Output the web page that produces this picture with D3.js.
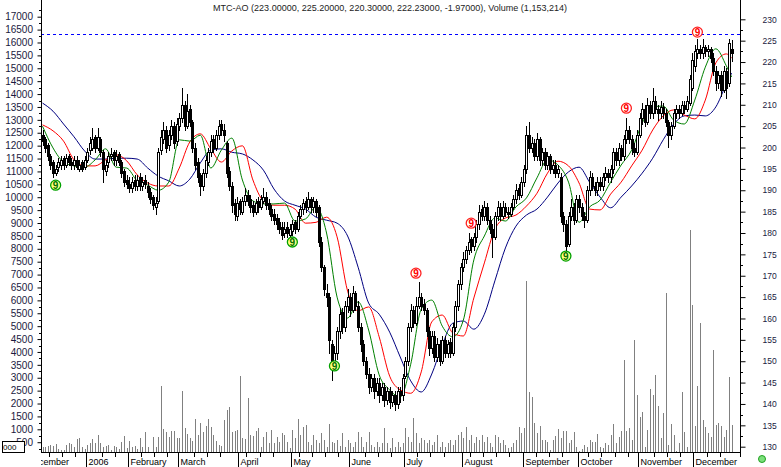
<!DOCTYPE html>
<html><head><meta charset="utf-8">
<script src="https://cdn.jsdelivr.net/npm/d3@7"></script>
<style>html,body{margin:0;padding:0;background:#fff;} svg{display:block;}</style>
</head><body>
<svg id="chart" width="781" height="467"></svg>
<script>
// ---------------- DATA ----------------
const title = "MTC-AO (223.00000, 225.20000, 220.30000, 222.23000, -1.97000), Volume (1,153,214)";

// daily bars (Dec 2005 .. Dec 2006)
const open = [
 203,202,200.5,198,196.5,194,195.5,196,197.5,196,198,196.5,196,197,195,196.5,195.5,
 197,199.5,200,202.5,200,202,199,194.5,196.5,198,199,197,198.5,196.5,194.5,192.5,
 191.5,190.5,192.5,191,193,191,192.5,191,189.5,188.5,186,187.5,199.5,202,204,200.5,203,205,201.5,
 205,207,210,205,209,206,200,196.5,193.5,191,194,196.5,199,202,200,203,205.5,204,201,194.5,191,187,184,
 187.5,185,187.5,189,188,186.5,185,187.5,186,187.5,188.5,187,185.5,184.5,183.5,182.5,181.5,180,181.5,179.5,
 180.5,182.5,181,184,185.5,187.5,186,188,186,187.5,186,178,172,166,165,154,150,152,157,161.5,158,163,
 165,162,166,163,158,154,150,147,144,146,143,145,142,144,141,143,140.5,142,140,143,142,
 146.5,150,158,162,159,163,165,163.5,162,157,153,156,151,154,150,155,152,154.5,152,158,163,168,
 172,174,176,178.5,177,179,182,185.5,184,186,183,181,179,184,186,184,186,185,184.5,186,188,190.5,189,
 192,195,203,200,201,198,202,197,199,196,198,195,196,194,193,184,182,177.5,184,186,183,
 188,186,184,183,190,193,191,190,192,191,193,194,193,195,199,197,200,198,202,204,202,200,199,
 203,207,209,206,210,208,211,209,208,209.5,208,206,203,205,208,209,208,210,209,210.5,214,
 219,222,223,222,223.5,222.5,223,221,218,215,217,213.5,218,215,223
];
const high = [
 204,202.5,201,198.5,197,196,197.5,198,198,198.5,198.5,197.5,198,198,197,197,198,
 200,202.5,204.5,203,204.5,202.5,199.5,197,199,200,199.5,199.5,199,197,195,193.5,
 193,193,193.5,193.5,194,193,193.5,192,190.5,189,188.5,200,204,206,205,204,206.5,206,207,
 208,214,211,212.5,210,206.5,201,197.5,194,195,198,200,203,203,204,206.5,206.5,205.5,201.5,195.5,192,188,188.5,
 188,188.5,190.5,190,189,187.5,188,188.5,189,190.5,189.5,188,186.5,185.5,184.5,183.5,182.5,182.5,182.5,182,
 183,183,185,186.5,188,188.5,189.5,188.5,188.5,188,186.5,179,172.5,168,166,155,153.5,158,162.5,162.5,164,167,
 166,167.5,166.5,164,159,155,151,148.5,147,147,146,146,145,145,144,144,143,143,144,144,147,
 151,159,163.5,163,165,168.5,166,164.5,162.5,158,157,157,155.5,155,156,156,155,155.5,159,164,169,173,
 175.5,177,180,179,180,183,186.5,186.5,187.5,187,184,182,185,187.5,187,187.5,187,186,187,189,191.5,191.5,193,
 196,205,206,202.5,202,203.5,202.5,200,200,199,198.5,197,197,196,194,185,183,185,188,187,189,
 189,187,185,191,194.5,194,192,193,193,194,195.5,195,196,200,200,201,200.5,203,207,205,203,201,204,
 208,210.5,210,211.5,211,214,212,210,211,210.5,209,206.5,206,209,210,210,211,211,212,217,222,
 224,225.5,224,225.5,224,224,223.5,222,219,218,218,219,218.5,225.5,225.2
];
const low = [
 200.5,199,197,195,193,193.5,194.5,195,195,195.5,196,195,195,195,194.5,194.5,195,
 196.5,198.5,199.5,199,199.5,198,192,193.5,195.5,197,196,196,196,193,191,190.5,
 189.5,189.5,190,190,190,190,190.5,188.5,187,185.5,184.5,187,198.5,201,199,199.5,202,200,200.5,
 204,206,204,204.5,205,199,195,192,189,190,193,196,198,199,199.5,202,203,201.5,193,190,185,183,183,
 184.5,184.5,186.5,186.5,185,184,184.5,185,185.5,187,185.5,184.5,183,182,181,180,178.5,179,179,178.8,
 179.5,180,180.5,183.5,184.5,185,185.5,185,185,184,177,171,165.5,163,152,145.5,149.5,150.5,155.5,156.5,157,161.5,
 160.5,161.5,162,157,152.5,149,146,142.5,143,141.5,142,140.5,141,139.5,140,139,139.5,138.5,139,140.5,141,
 146,149,157,158,158.5,162.5,162,161,156,151.5,152,150,150,149,149.5,151,151,151,151.5,157,162,167,
 171,173,175,175.5,176,178,181,183,183,182,180,174.5,178.5,183,183,183.5,184,183.5,184,185.5,187,188,188.5,
 191,194,199,199,197,197,196,196,195,195,194,194,193,193,182.5,180.5,175.5,177,183,182,182.5,
 185,183,181.5,182.5,189,190,189,189,190,190,192.5,192,192,194,196,196,197,197,201,201,198.5,198,198.5,
 202.5,205.5,205,205.5,207,207,208,206.5,207,207,205,200.2,202,204.5,207,207,207.5,208,208.5,210,213.5,
 218,221,221,221,221.5,221.5,220,217,213.5,214,212,213,211.5,214.5,220.3
];
const close = [
 201.5,200,198,196,194,195,196.5,197,196,197.5,196.5,196,197,195.5,196,195,197,
 199,201,202,200,202.5,199,195,196,198,198.5,197,198,196.5,194,192,191.5,
 190.5,192,191,192.5,191,192,191.5,189.5,188,186.5,187,199,202.5,204,200,203,205,201,205.5,
 207,210,205,208.5,206,200,196,193,191,194,197,199,201.5,200,203,205,204,203,194,191,186.5,184.5,187,
 185.5,187.5,189,187.5,186,185,187,186,188,188.5,186.5,185.5,184,183,182,181,179.5,181,180,181,
 182,181,184,185.5,187,186,188,186,187.5,185,178,172,167,165,155,149,152,157,161,158,163,165,
 162,166,163,158,154,150,147,144,146,143,145,142,144,141,143,140.5,142,140,143,142,146,
 150,158,162,159,163,165,163,162,157,153,156,151,154,150,155,152,154,152,158,163,168,172,
 174,176,178,177,179,182,185,184,186,183,181,179,184,186,184,186,185,184.5,186,188,190,189,192,
 195,203,200,201,198,202,197,199,196,198,195,196,194,195,184,182,177,184,186,183,188,
 186,184,183,190,193,191,190,192,191,193,194,193,195,199,197,200,198,202,204,202,200,199,203,
 207,209,206,210,208,211,209,208,209.5,208,206,203,205,208,209,208,210,209,211,216,220.5,
 222.5,223,222,223.5,222.5,223,221,218,215,217,213.5,218,214,224.5,222.23
];
// volume, thousands (left axis)
const volume = [
 300,300,365,400,365,430,235,200,200,390,480,430,300,625,675,315,225,390,460,625,
 460,780,460,300,365,400,200,365,300,235,520,740,290,545,300,365,250,660,300,885,
 330,120,700,330,700,2680,1010,895,700,935,935,675,675,2485,1050,820,675,545,1400,780,
 1245,905,1130,1400,1090,780,560,400,365,1360,1750,1865,895,935,985,3070,660,625,2215,780,
 740,935,1050,
 325,715,905,460,975,460,715,520,845,780,520,290,975,650,1400,780,1100,1165,520,390,
 780,585,460,845,585,325,1200,520,460,585,355,845,325,585,460,325,520,905,715,325,
 520,905,390,325,520,325,460,1040,460,290,650,325,520,325,460,1040,715,520,1425,845,
 460,650,585,460,585,390,520,780,325,520,325,460,585,390,585,780,905,650,1100,585,
 780,460,715,585,780,520,715,460,325,780,715,460,585,390,290,325,460,585,1100,845,
 1040,6750,2460,2265,1255,870,1130,585,585,520,200,585,740,1025,675,945,935,480,585,885,
 315,170,235,390,315,585,505,495,820,300,275,460,400,780,1195,460,715,935,3690,945,
 1065,585,4460,2330,1490,1670,300,975,2560,2330,3105,1915,675,1630,6280,390,1205,780,170,460,
 2460,895,300,8720,5820,1130,2680,5135,1360,1100,870,715,4075,1155,1235,1130,700,975,3040,1165
];

// Alligator lines read every 4 bars (+ last bar)
const lineBars = d3.range(0, 261, 4).concat([262]);
const jaw = [210.4,208.5,205.5,202.5,199.2,197.3,197.3,197.5,197.5,197.3,195.2,193.3,192.2,191.0,192.6,196.4,199.4,199.7,198.9,198.5,
 197.1,194.7,190.3,187.5,186.5,185.6,183.7,183.0,182.3,179.3,172.0,163.6,161.0,156.8,151.0,145.4,142.8,147.0,153.8,158.9,
 159.4,157.5,161.0,168.8,176.5,181.6,184.2,185.6,188.4,191.7,194.3,195.4,191.9,188.4,185.9,188.4,191.0,194.0,197.5,201.8,
 205.5,207.4,207.6,207.4,209.5,214.9,217.4];
const teeth = [205.3,203.9,201.5,197.1,195.7,195.7,197.1,198.3,196.9,193.6,191.7,191.0,191.0,195.2,201.3,203.2,199.7,196.6,199.2,200.4,
 192.4,187.5,186.5,186.5,185.6,182.3,182.5,183.7,179.1,166.4,161.8,162.7,155.7,146.5,143.3,142.5,147.5,159.2,160.8,156.6,
 155.9,164.8,173.0,180.9,183.5,184.2,186.3,189.3,194.0,196.8,195.7,191.7,185.6,185.4,189.1,191.9,195.7,199.4,204.1,207.4,
 208.8,207.6,206.7,211.1,219.8,221.9,220.9];
const lips = [205.0,199.9,196.6,195.7,195.4,197.1,199.7,195.4,195.2,192.2,191.2,190.0,191.9,201.8,201.5,202.9,195.2,199.4,202.2,192.4,
 187.5,186.8,186.8,187.0,182.8,183.3,186.1,180.0,165.0,160.1,163.9,157.3,146.8,143.3,141.6,149.3,162.2,164.3,158.2,155.7,
 159.6,173.7,179.3,183.5,182.8,186.1,188.2,192.9,197.1,195.9,191.9,182.5,186.1,187.7,191.9,195.9,199.4,205.7,209.5,209.7,
 206.4,205.5,211.1,218.8,223.1,219.1,216.5];

// "9" setup markers
const nineBars   = [5, 95, 111, 199, 142, 163, 222, 249];
const ninePrices = [191.2, 177.9, 148.9, 174.6, 170.6, 182.3, 209.2, 227.0];
const nineKinds  = ["buy","buy","buy","buy","sell","sell","sell","sell"];

const resistance = 226.56;

// month axis
const monthBars   = [-6, 17, 33, 52, 75, 95, 117, 138, 160, 183, 204, 227, 248];
const monthLabels = ["December","2006","February","March","April","May","June","July","August","September","October","November","December"];
const priceTicks  = d3.range(130, 231, 5);
const volumeTicks = d3.range(500, 17001, 500);

// ---------------- DRAW ----------------
const W = 781, H = 467;
const plotL = 41, plotR = 740, plotB = 452;
const svg = d3.select("#chart");
const x  = d3.scaleLinear().domain([0, close.length - 1]).range([42.5, 731.6]);
const yP = d3.scaleLinear().domain([130, 230]).range([446.7, 19.3]);
const yV = d3.scaleLinear().domain([0, 17000]).range([455.1, 16.7]);
const cx = i => Math.round(x(i));

svg.append("rect").attr("width", W).attr("height", H).attr("fill", "#fff");
const defs = svg.append("defs");
defs.append("clipPath").attr("id", "plot").append("rect")
  .attr("x", plotL + 1).attr("y", 0).attr("width", plotR - plotL - 1).attr("height", plotB);
defs.append("clipPath").attr("id", "xlab").append("rect")
  .attr("x", plotL).attr("y", plotB).attr("width", plotR - plotL).attr("height", H - plotB);

const plot = svg.append("g").attr("clip-path", "url(#plot)");

// volume bars
plot.append("g").attr("shape-rendering", "crispEdges")
  .selectAll("line").data(volume).join("line")
  .attr("x1", (d, i) => cx(i) + 0.5).attr("x2", (d, i) => cx(i) + 0.5)
  .attr("y1", plotB).attr("y2", d => Math.round(yV(d)))
  .attr("stroke", "#808080").attr("stroke-width", 1);

// resistance dashed line
plot.append("line")
  .attr("x1", plotL).attr("x2", plotR)
  .attr("y1", Math.round(yP(resistance)) + 0.5).attr("y2", Math.round(yP(resistance)) + 0.5)
  .attr("stroke", "#0000ff").attr("stroke-width", 1).attr("stroke-dasharray", "3,3");

// alligator lines
const lineGen = d3.line().x(d => x(d[0])).y(d => yP(d[1])).curve(d3.curveMonotoneX);
[[jaw, "#000080"], [teeth, "#ff0000"], [lips, "#008000"]].forEach(([arr, col]) => {
  plot.append("path").datum(arr.map((v, k) => [lineBars[k], v]))
    .attr("d", lineGen).attr("fill", "none").attr("stroke", col).attr("stroke-width", 1);
});

// candles
const cg = plot.append("g").attr("shape-rendering", "crispEdges");
close.forEach((c, i) => {
  const o = open[i], h = high[i], l = low[i];
  const px = cx(i);
  cg.append("line").attr("x1", px + 0.5).attr("x2", px + 0.5)
    .attr("y1", Math.round(yP(h))).attr("y2", Math.round(yP(l)) + 1)
    .attr("stroke", "#000");
  const top = Math.round(yP(Math.max(o, c))), bot = Math.round(yP(Math.min(o, c)));
  if (c < o) {
    cg.append("rect").attr("x", px - 1).attr("y", top).attr("width", 3).attr("height", Math.max(1, bot - top + 1)).attr("fill", "#000");
  } else {
    cg.append("rect").attr("x", px - 0.5).attr("y", top + 0.5).attr("width", 2).attr("height", Math.max(0, bot - top))
      .attr("fill", "#fff").attr("stroke", "#000").attr("stroke-width", 1);
  }
});

// "9" markers
nineBars.forEach((b, k) => {
  const g = plot.append("g").attr("transform", `translate(${x(b)},${yP(ninePrices[k])})`);
  const buy = nineKinds[k] === "buy";
  g.append("circle").attr("r", 5).attr("fill", buy ? "#ffff80" : "#fff")
    .attr("stroke", buy ? "#00a000" : "#ff2020").attr("stroke-width", 1.3);
  g.append("text").attr("text-anchor", "middle").attr("dy", "0.36em")
    .attr("font-family", "Liberation Sans, Arial, sans-serif").attr("font-size", 10).attr("font-weight", "bold")
    .attr("fill", buy ? "#007000" : "#ff0000").text("9");
});

// frame lines
const fr = svg.append("g").attr("shape-rendering", "crispEdges").attr("stroke", "#000");
fr.append("line").attr("x1", plotL + 0.5).attr("x2", plotL + 0.5).attr("y1", 0).attr("y2", plotB + 1);
fr.append("line").attr("x1", plotR + 0.5).attr("x2", plotR + 0.5).attr("y1", 0).attr("y2", plotB + 5);
fr.append("line").attr("x1", plotL).attr("x2", plotR + 1).attr("y1", plotB + 0.5).attr("y2", plotB + 0.5);

// left (volume) axis
const la = svg.append("g").attr("transform", `translate(${plotL + 0.5},0)`)
  .call(d3.axisLeft(yV).tickValues(volumeTicks).tickSize(4).tickPadding(4.5).tickFormat(d3.format("d")));
la.select(".domain").remove();
la.selectAll("text").attr("font-family", "Liberation Sans, Arial, sans-serif").attr("font-size", 10).attr("fill", "#1a1a40");
svg.append("g").attr("shape-rendering", "crispEdges").selectAll("line")
  .data(d3.range(250, 17600, 500)).join("line")
  .attr("x1", plotL - 2).attr("x2", plotL).attr("y1", d => Math.round(yV(d)) + 0.5).attr("y2", d => Math.round(yV(d)) + 0.5)
  .attr("stroke", "#000");

// right (price) axis
const ra = svg.append("g").attr("transform", `translate(${plotR + 0.5},0)`)
  .call(d3.axisRight(yP).tickValues(priceTicks).tickSize(5).tickPadding(17).tickFormat(d3.format("d")));
ra.select(".domain").remove();
ra.selectAll("text").attr("font-family", "Liberation Sans, Arial, sans-serif").attr("font-size", 8.5).attr("fill", "#1a1a40");
svg.append("g").attr("shape-rendering", "crispEdges").selectAll("line")
  .data(d3.range(132.5, 232, 5)).join("line")
  .attr("x1", plotR).attr("x2", plotR + 3).attr("y1", d => Math.round(yP(d)) + 0.5).attr("y2", d => Math.round(yP(d)) + 0.5)
  .attr("stroke", "#000");

// bottom month axis
const xa = svg.append("g").attr("shape-rendering", "crispEdges");
const tickX = i => Math.round(x(i) - 1.3) + 0.5;
const weekBars = d3.range(3, 263, 5).filter(i => monthBars.every(m => Math.abs(m - i) > 2));
xa.selectAll("line.w").data(weekBars).join("line").attr("class", "w")
  .attr("x1", tickX).attr("x2", tickX).attr("y1", plotB).attr("y2", plotB + 5).attr("stroke", "#000");
xa.selectAll("line.m").data(monthBars.filter(m => m >= 0)).join("line").attr("class", "m")
  .attr("x1", tickX).attr("x2", tickX).attr("y1", plotB).attr("y2", H).attr("stroke", "#000");
svg.append("g").attr("clip-path", "url(#xlab)")
  .selectAll("text").data(monthBars).join("text")
  .attr("x", (m, k) => tickX(m) + 2).attr("y", 465)
  .attr("font-family", "Liberation Sans, Arial, sans-serif").attr("font-size", 9).attr("fill", "#000")
  .text((m, k) => monthLabels[k]);

// title
svg.append("text").attr("x", 213).attr("y", 11).attr("textLength", 354).attr("lengthAdjust", "spacingAndGlyphs")
  .attr("font-family", "Liberation Sans, Arial, sans-serif").attr("font-size", 9).attr("fill", "#222").text(title);

// small box bottom-left
svg.append("rect").attr("x", 2.5).attr("y", 441.5).attr("width", 22).attr("height", 11)
  .attr("fill", "#fff").attr("stroke", "#000");
svg.append("text").attr("x", 3).attr("y", 450).attr("font-family", "Liberation Sans, Arial, sans-serif")
  .attr("font-size", 8).attr("fill", "#000").text("000");

// status icon bottom-right
svg.append("circle").attr("cx", 762).attr("cy", 459).attr("r", 3.5).attr("fill", "#7ce07c").attr("stroke", "#20a020");
</script>
</body></html>
